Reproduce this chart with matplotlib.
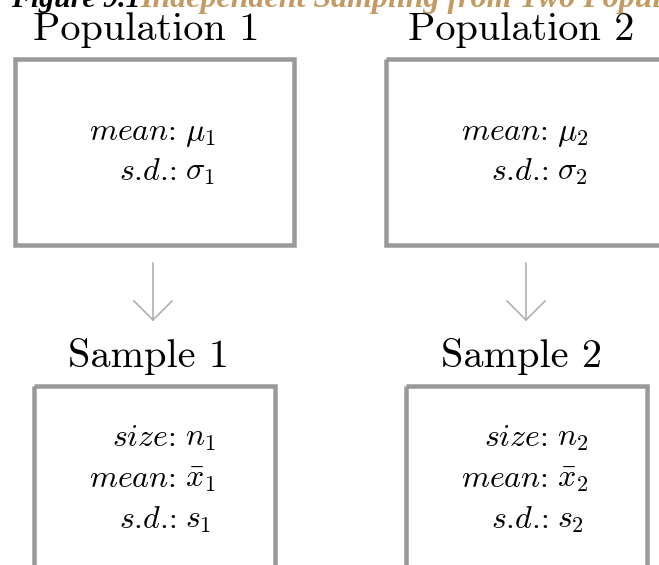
import matplotlib
matplotlib.use("Agg")
import matplotlib.pyplot as plt
from matplotlib.patches import Rectangle

plt.rcParams['mathtext.fontset'] = 'cm'

# ---- content ----
title_prefix = "Figure 9.1"
title_main = "Independent Sampling from Two Populations"
pop_labels = ["Population 1", "Population 2"]
sample_labels = ["Sample 1", "Sample 2"]
pop_keys = [r"$mean$:", r"$s$.$d$.:"]
pop_vals = [
    [r"$\mu_1$", r"$\sigma_1$"],
    [r"$\mu_2$", r"$\sigma_2$"],
]
sample_keys = [r"$size$:", r"$mean$:", r"$s$.$d$.:"]
sample_vals = [
    [r"$n_1$", r"$\bar{x}_1$", r"$s_1$"],
    [r"$n_2$", r"$\bar{x}_2$", r"$s_2$"],
]

# ---- layout (pixel space) ----
W, H = 659, 565
fig = plt.figure(figsize=(W / 100, H / 100), dpi=100)
ax = fig.add_axes([0, 0, 1, 1])
ax.set_xlim(0, W)
ax.set_ylim(H, 0)
ax.axis("off")

box_col = "#999999"
arrow_col = "#aaaaaa"
lw_box = 4.5 * 72 / 100

pop_boxes = [(14.5, 58.5, 293.5, 245), (386, 58.5, 720, 245)]
samp_boxes = [(33.5, 385.5, 275, 640), (405.5, 385.5, 647, 640)]
pop_centers = [146.5, 521.5]
samp_centers = [149, 521.5]
arrow_x = [153, 526]
colon_x = [176, 548]

# title (cut off at top in the reference)
ax.text(11, 7, title_prefix, fontsize=21.5, fontfamily="Liberation Serif",
        fontweight="bold", fontstyle="italic", color="black", va="baseline")
ax.text(140, 7, title_main, fontsize=23,
        fontfamily="Liberation Serif", fontweight="bold", fontstyle="italic",
        color="#C39A62", va="baseline")

for i in range(2):
    # population label
    ax.text(pop_centers[i], 40, pop_labels[i], fontsize=29, fontfamily="cmr10",
            ha="center", va="baseline")
    x0, y0, x1, y1 = pop_boxes[i]
    ax.add_patch(Rectangle((x0, y0), x1 - x0, y1 - y0, fill=False,
                           edgecolor=box_col, lw=lw_box))
    for j, (k, v) in enumerate(zip(pop_keys, pop_vals[i])):
        y = 140 + j * 40
        ax.text(colon_x[i], y, k, fontsize=23, fontfamily="cmr10",
                ha="right", va="baseline")
        ax.text(colon_x[i] + 9, y, v, fontsize=23, fontfamily="cmr10",
                ha="left", va="baseline")
    # arrow
    ax.plot([arrow_x[i], arrow_x[i]], [263, 320], color=arrow_col, lw=1.1)
    ax.plot([arrow_x[i] - 19, arrow_x[i], arrow_x[i] + 19], [301, 320, 301],
            color=arrow_col, lw=1.1)
    # sample label
    ax.text(samp_centers[i], 367, sample_labels[i], fontsize=29, fontfamily="cmr10",
            ha="center", va="baseline")
    x0, y0, x1, y1 = samp_boxes[i]
    ax.add_patch(Rectangle((x0, y0), x1 - x0, y1 - y0, fill=False,
                           edgecolor=box_col, lw=lw_box))
    for j, (k, v) in enumerate(zip(sample_keys, sample_vals[i])):
        y = 446 + j * 41
        ax.text(colon_x[i], y, k, fontsize=23, fontfamily="cmr10",
                ha="right", va="baseline")
        ax.text(colon_x[i] + 9, y, v, fontsize=23, fontfamily="cmr10",
                ha="left", va="baseline")

fig.savefig("out.png", dpi=100)
